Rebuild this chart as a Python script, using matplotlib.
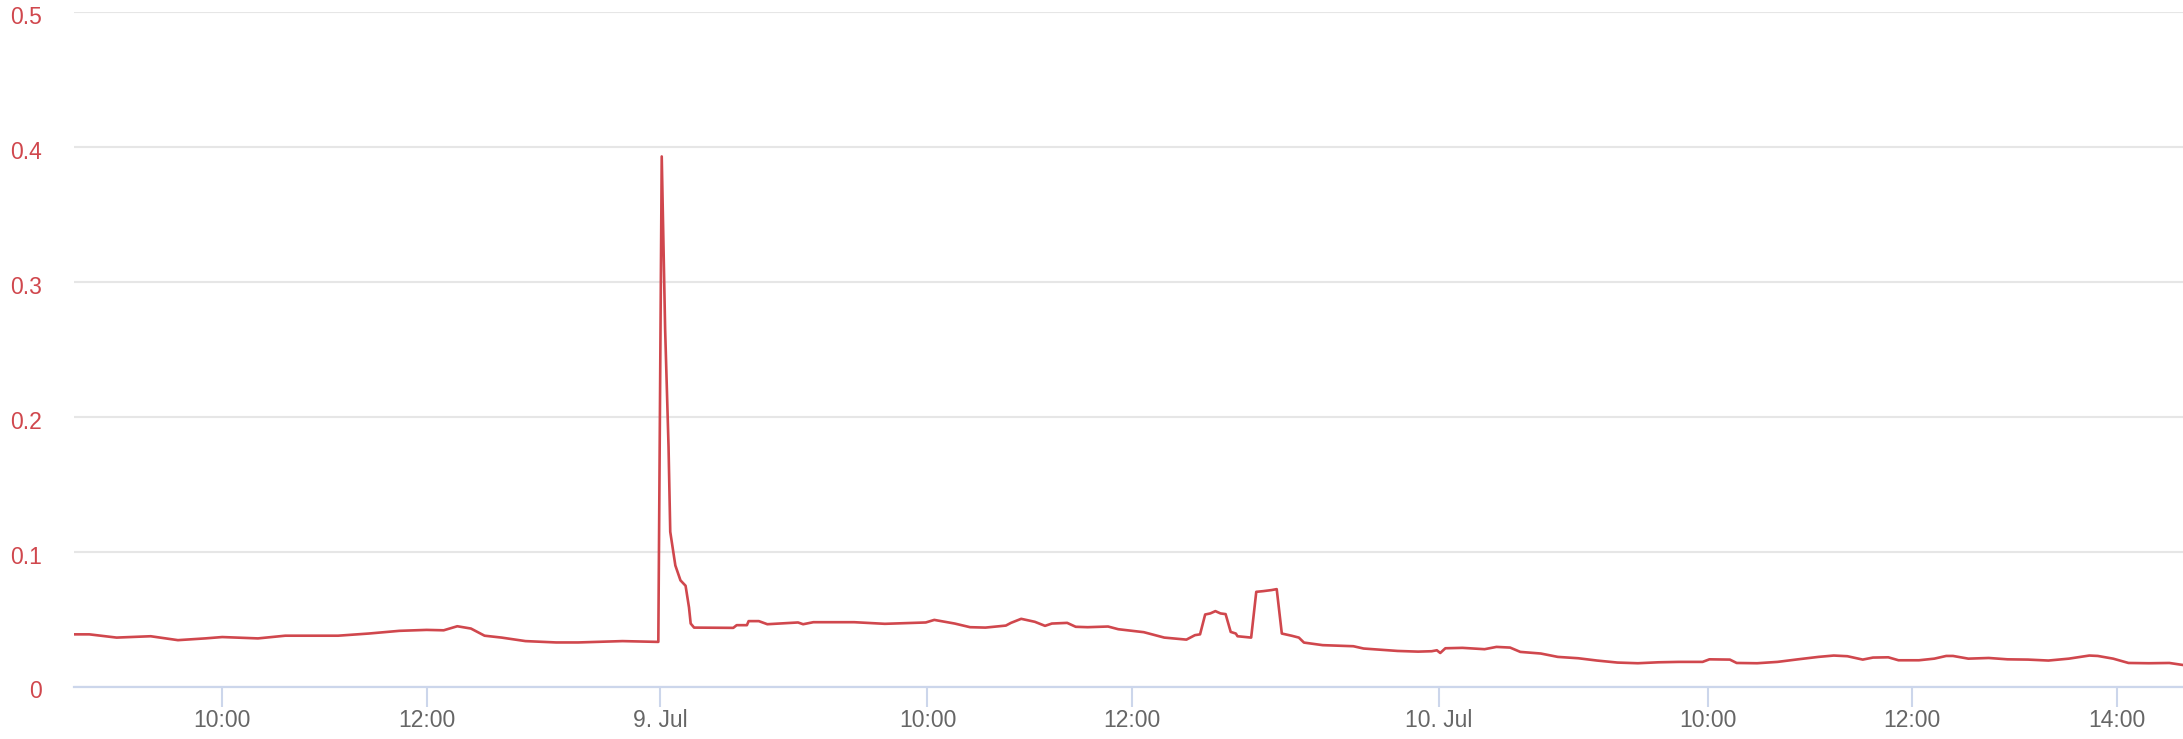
import numpy as np
import matplotlib.pyplot as plt
import matplotlib.transforms as mtransforms

# === 数据 ===
# 三个交易日，每天的开始/结束时间（横轴为序数轴，夜间空档被去掉）
day_names = ["8. Jul", "9. Jul", "10. Jul"]
day_open = ["08:33", "07:23", "07:22"]
day_close = ["14:17", "15:00", "14:39"]

day1_time = ["08:33", "08:42", "08:58", "09:18", "09:34", "09:50", "10:00", "10:21",
             "10:37", "10:52", "11:08", "11:26", "11:44", "12:00", "12:10", "12:18",
             "12:26", "12:34", "12:44", "12:58", "13:16", "13:29", "13:55", "14:16"]
day1_value = [0.039, 0.039, 0.0366, 0.0376, 0.0347, 0.036, 0.037, 0.036,
              0.038, 0.038, 0.038, 0.0396, 0.0416, 0.0423, 0.042, 0.045,
              0.0433, 0.038, 0.0366, 0.034, 0.033, 0.033, 0.034, 0.0334]

day2_time = ["07:24", "07:26", "07:28", "07:29", "07:32", "07:35", "07:38", "07:40",
             "07:41", "07:43", "08:06", "08:08", "08:14", "08:15", "08:21", "08:26",
             "08:44", "08:47", "08:53", "09:17", "09:35", "09:59", "10:04", "10:16",
             "10:25", "10:34", "10:46", "10:49", "10:55", "11:03", "11:09", "11:13",
             "11:22", "11:27", "11:34", "11:46", "11:52", "12:07", "12:19", "12:32",
             "12:37", "12:40", "12:43", "12:46", "12:49", "12:52", "12:55", "12:58",
             "13:01", "13:02", "13:10", "13:13", "13:17", "13:22", "13:25", "13:28",
             "13:34", "13:38", "13:41", "13:52", "14:10", "14:16", "14:36", "14:48",
             "14:56", "14:59"]
day2_value = [0.393, 0.265, 0.178, 0.115, 0.09, 0.079, 0.075, 0.059,
              0.047, 0.044, 0.0438, 0.0458, 0.0458, 0.0488, 0.0488, 0.0465,
              0.0478, 0.0465, 0.048, 0.048, 0.0468, 0.0478, 0.0497, 0.047,
              0.0443, 0.044, 0.0455, 0.0475, 0.0505, 0.0483, 0.0453, 0.047,
              0.0475, 0.0446, 0.0443, 0.0448, 0.0428, 0.0406, 0.0366, 0.0351,
              0.0384, 0.039, 0.0537, 0.0545, 0.0562, 0.0545, 0.054, 0.0408,
              0.0396, 0.0376, 0.0366, 0.0705, 0.071, 0.0718, 0.0725, 0.0396,
              0.0379, 0.0366, 0.0329, 0.031, 0.0302, 0.0285, 0.0267, 0.0262,
              0.0265, 0.0272]

day3_time = ["07:23", "07:26", "07:36", "07:49", "07:56", "08:04", "08:10", "08:22",
             "08:32", "08:44", "08:55", "09:07", "09:19", "09:31", "09:43", "09:57",
             "10:01", "10:13", "10:17", "10:29", "10:41", "10:53", "11:05", "11:14",
             "11:22", "11:31", "11:37", "11:46", "11:52", "12:04", "12:13", "12:20",
             "12:24", "12:33", "12:45", "12:56", "13:08", "13:20", "13:32", "13:44",
             "13:49", "13:58", "14:07", "14:19", "14:31", "14:39"]
day3_value = [0.0252, 0.0287, 0.029, 0.028, 0.0297, 0.0292, 0.026, 0.0248,
              0.0223, 0.0213, 0.0196, 0.0181, 0.0176, 0.0183, 0.0186, 0.0186,
              0.0205, 0.0203, 0.0178, 0.0176, 0.0186, 0.0205, 0.0223, 0.0233,
              0.0228, 0.0203, 0.0218, 0.022, 0.0198, 0.0198, 0.021, 0.023,
              0.023, 0.021, 0.0215, 0.0205, 0.0203, 0.0196, 0.021, 0.0233,
              0.023, 0.021, 0.0178, 0.0176, 0.0178, 0.0163]

# 横轴刻度: (第几天, 时间, 标签)
tick_day = [0, 0, 1, 1, 1, 2, 2, 2, 2]
tick_time = ["10:00", "12:00", "07:23", "10:00", "12:00", "07:22", "10:00", "12:00", "14:00"]
tick_label = ["10:00", "12:00", "9. Jul", "10:00", "12:00", "10. Jul", "10:00", "12:00", "14:00"]

y_ticks = [0, 0.1, 0.2, 0.3, 0.4, 0.5]
y_labels = ["0", "0.1", "0.2", "0.3", "0.4", "0.5"]


# === 序数时间轴 ===
def to_hours(s):
    h, m = s.split(":")
    return int(h) + int(m) / 60.0


day_offset = [0.0]
for o, c in zip(day_open[:-1], day_close[:-1]):
    day_offset.append(day_offset[-1] + to_hours(c) - to_hours(o))


def pos(day, t):
    return day_offset[day] + to_hours(t) - to_hours(day_open[day])


xs, ys = [], []
for d, (times, vals) in enumerate([(day1_time, day1_value), (day2_time, day2_value), (day3_time, day3_value)]):
    xs += [pos(d, t) for t in times]
    ys += vals

# === 画图 ===
plt.rcParams['font.family'] = ['Liberation Sans', 'DejaVu Sans']
red = "#d0474d"

fig = plt.figure(figsize=(21.83, 7.39), dpi=100)
ax = fig.add_axes([74 / 2183, 1 - 687 / 739, 1 - 74 / 2183, (687 - 12) / 739])

ax.plot(xs, ys, color=red, lw=1.9, solid_joinstyle='round')

ax.set_xlim(0, pos(2, day_close[2]))
ax.set_ylim(0, 0.5)

ax.set_yticks(y_ticks)
ax.set_yticklabels(y_labels)
ax.set_xticks([pos(d, t) for d, t in zip(tick_day, tick_time)])
ax.set_xticklabels(tick_label)

ax.grid(axis='y', color="#e6e6e6", lw=1.5)
ax.set_axisbelow(True)
for side in ["top", "right", "left"]:
    ax.spines[side].set_visible(False)
ax.spines["bottom"].set_color("#ccd6eb")
ax.spines["bottom"].set_linewidth(1.6)

ax.tick_params(axis='y', length=0, pad=23, labelsize=16.5, labelcolor=red)
ax.tick_params(axis='x', length=14.5, width=1.5, color="#ccd6eb", pad=1,
               labelsize=16.5, labelcolor="#666666")

# 纵轴标签略微下移（和原图一样在网格线稍下方）
shift = mtransforms.ScaledTranslation(0, -2.5 / 100, fig.dpi_scale_trans)
for lab in ax.get_yticklabels():
    lab.set_transform(lab.get_transform() + shift)

fig.savefig("out.png", dpi=100)
